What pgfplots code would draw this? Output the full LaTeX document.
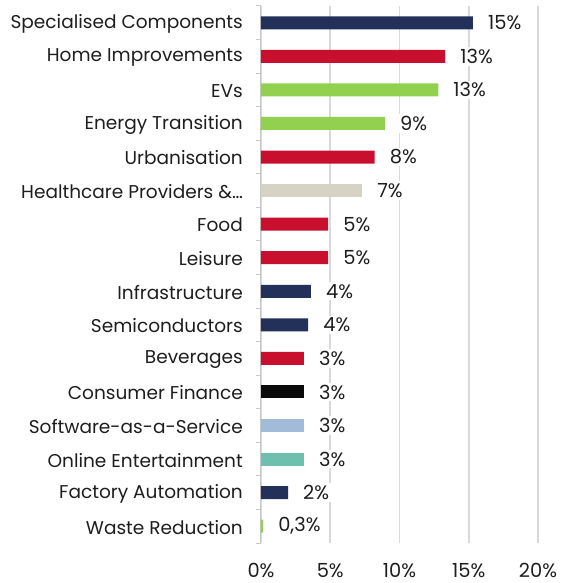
\documentclass[border=0pt]{standalone}
\usepackage{fontspec}
\setmainfont{Poppins}
\usepackage{pgfplots}
\pgfplotsset{compat=1.18}
\definecolor{navy}{HTML}{22305A}
\definecolor{redc}{HTML}{C8102E}
\definecolor{greenc}{HTML}{92D050}
\definecolor{beige}{HTML}{D6D3C4}
\definecolor{blackc}{HTML}{0A0A0A}
\definecolor{lblue}{HTML}{A2BBD8}
\definecolor{teal}{HTML}{6DBFAE}
\definecolor{gridc}{HTML}{D9D9D9}
\definecolor{txt}{HTML}{1E1E1E}
\begin{document}
\fontsize{18.6}{22}\selectfont
\begin{tikzpicture}
\begin{axis}[
  scale only axis,
  width=277bp, height=537bp,
  xmin=0, xmax=20, ymin=-0.5, ymax=15.5,
  xbar, bar width=13bp, bar shift=0pt,
  axis lines*=left,
  x axis line style={draw=none},
  y axis line style={draw=gridc!80!gray, line width=1pt},
  xtick={0,5,10,15,20},
  xticklabel={\pgfmathprintnumber{\tick}\%},
  xticklabel style={yshift=-14bp, text=txt, font=\fontsize{19.5}{22}\selectfont},
  /pgf/number format/assume math mode=true,
  xmajorgrids, major grid style={draw=gridc, line width=1.6pt},
  ytick={0,...,15},
  yticklabels={Waste Reduction,Factory Automation,Online Entertainment,Software-as-a-Service,Consumer Finance,Beverages,Semiconductors,Infrastructure,Leisure,Food,Healthcare Providers \&\ldots,Urbanisation,Energy Transition,EVs,Home Improvements,Specialised Components},
  yticklabel style={text=txt, inner sep=0pt, xshift=-18bp, yshift=-1bp},
  major tick length=0pt,
  minor ytick={-0.5,0.5,...,15.5},
  minor tick length=5bp,
  tick align=outside,
  minor tick style={draw=gridc!80!gray, line width=1pt},
  point meta=explicit symbolic,
  nodes near coords,
  nodes near coords style={anchor=west, xshift=13bp, text=txt, fill=white, inner sep=2bp, font=\fontsize{19.5}{22}\selectfont},
  clip=false,
]
\addplot[draw=none, fill=navy] coordinates {(15.3,15) [15\%] (3.6,7) [4\%] (3.4,6) [4\%] (1.95,1) [2\%]};
\addplot[draw=none, fill=redc] coordinates {(13.3,14) [13\%] (8.2,11) [8\%] (4.85,9) [5\%] (4.85,8) [5\%] (3.1,5) [3\%]};
\addplot[draw=none, fill=greenc] coordinates {(12.8,13) [13\%] (8.95,12) [9\%] (0.15,0) [0,3\%]};
\addplot[draw=none, fill=beige] coordinates {(7.3,10) [7\%]};
\addplot[draw=none, fill=blackc] coordinates {(3.1,4) [3\%]};
\addplot[draw=none, fill=lblue] coordinates {(3.1,3) [3\%]};
\addplot[draw=none, fill=teal] coordinates {(3.1,2) [3\%]};
\end{axis}
\pgfresetboundingbox
\path[use as bounding box] ([xshift=-261bp,yshift=-40bp]current axis.south west) rectangle ([xshift=27bp,yshift=6bp]current axis.north east);
\end{tikzpicture}
\end{document}
